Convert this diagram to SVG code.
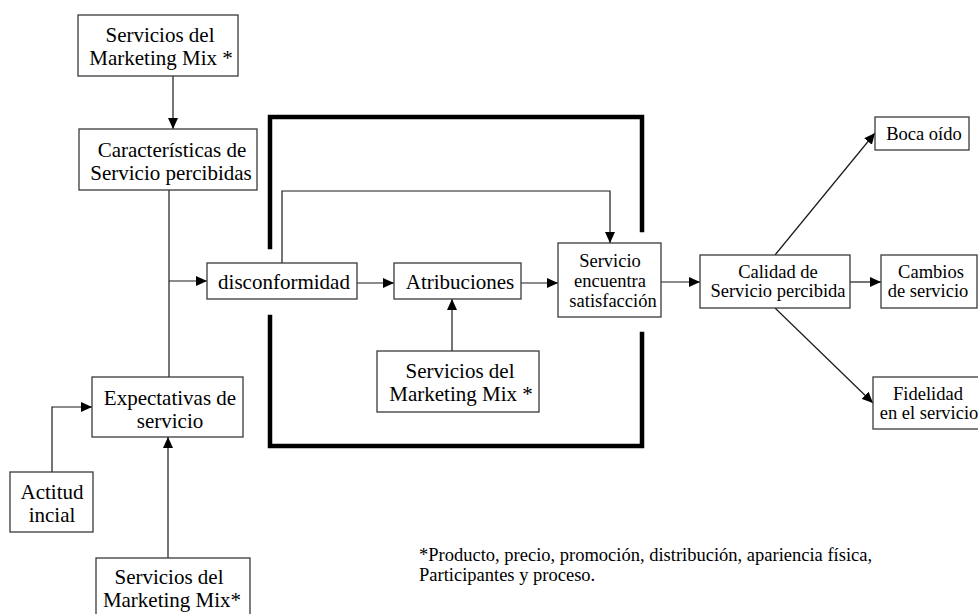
<svg xmlns="http://www.w3.org/2000/svg" width="978" height="614" viewBox="0 0 978 614">
<style>
.box{fill:#fff;stroke:#3a3a3a;stroke-width:1.3}
.t{font-family:"Liberation Serif","Times New Roman",serif;fill:#000;text-anchor:middle}
.t21{font-size:21px}
.t18{font-size:18.5px}
.ln{fill:none;stroke:#1a1a1a;stroke-width:1.2}
.arr{marker-end:url(#ah)}
.frame{fill:none;stroke:#000;stroke-width:4.5;stroke-linecap:square}
</style>
<defs>
<marker id="ah" markerUnits="userSpaceOnUse" markerWidth="12" markerHeight="10" refX="11" refY="5" orient="auto">
<path d="M0,0 L11,5 L0,10 Z" fill="#000"/>
</marker>
</defs>
<rect width="978" height="614" fill="#fff"/>

<g id="frame">
<path class="frame" d="M270,247 V117 H642 V230"/>
<path class="frame" d="M270,317 V446 H642 V334"/>
</g>

<g id="connectors">
<path class="ln arr" d="M173,76 V129"/>
<path class="ln" d="M169,190 V377"/>
<path class="ln arr" d="M169,281 H207"/>
<path class="ln arr" d="M52,472 V407 H92"/>
<path class="ln arr" d="M168,558 V437"/>
<path class="ln arr" d="M357,283 H394"/>
<path class="ln arr" d="M282,263 V191 H610 V243"/>
<path class="ln arr" d="M452,351 V299"/>
<path class="ln arr" d="M521,283 H558"/>
<path class="ln arr" d="M661,282 H700"/>
<path class="ln arr" d="M850,282 H881"/>
<path class="ln arr" d="M775,255 L875,133"/>
<path class="ln arr" d="M775,308 L873,403"/>
</g>

<g id="n-mix-top">
<rect class="box" x="78" y="15" width="160" height="61"/>
<text class="t t21" x="160" y="42">Servicios del</text>
<text class="t t21" x="161" y="65">Marketing Mix *</text>
</g>

<g id="n-caracteristicas">
<rect class="box" x="79" y="129" width="178" height="61"/>
<text class="t t21" x="172" y="157">Características de</text>
<text class="t t21" x="171" y="180">Servicio percibidas</text>
</g>

<g id="n-disconformidad">
<rect class="box" x="207" y="263" width="150" height="36"/>
<text class="t t21" x="284" y="289">disconformidad</text>
</g>

<g id="n-atribuciones">
<rect class="box" x="394" y="263" width="127" height="36"/>
<text class="t t21" x="460" y="289">Atribuciones</text>
</g>

<g id="n-mix-mid">
<rect class="box" x="377" y="351" width="162" height="61"/>
<text class="t t21" x="460" y="378">Servicios del</text>
<text class="t t21" x="461" y="401">Marketing Mix *</text>
</g>

<g id="n-servicio">
<rect class="box" x="558" y="243" width="103" height="74"/>
<text class="t t18" x="610" y="267">Servicio</text>
<text class="t t18" x="610" y="287">encuentra</text>
<text class="t t18" x="613" y="307">satisfacción</text>
</g>

<g id="n-expectativas">
<rect class="box" x="92" y="377" width="151" height="60"/>
<text class="t t21" x="170" y="405">Expectativas de</text>
<text class="t t21" x="170" y="428">servicio</text>
</g>

<g id="n-actitud">
<rect class="box" x="10" y="472" width="83" height="60"/>
<text class="t t21" x="52" y="499">Actitud</text>
<text class="t t21" x="52" y="522">incial</text>
</g>

<g id="n-mix-bottom">
<rect class="box" x="96" y="558" width="154" height="60"/>
<text class="t t21" x="169" y="584">Servicios del</text>
<text class="t t21" x="172" y="607">Marketing Mix*</text>
</g>

<g id="n-calidad">
<rect class="box" x="700" y="255" width="150" height="53"/>
<text class="t t18" x="778" y="278">Calidad de</text>
<text class="t t18" x="778" y="297">Servicio percibida</text>
</g>

<g id="n-boca">
<rect class="box" x="875" y="117" width="94" height="33"/>
<text class="t t18" x="924" y="140">Boca oído</text>
</g>

<g id="n-cambios">
<rect class="box" x="881" y="255" width="96" height="53"/>
<text class="t t18" x="931" y="278">Cambios</text>
<text class="t t18" x="928" y="297">de servicio</text>
</g>

<g id="n-fidelidad">
<rect class="box" x="873" y="377" width="115" height="52"/>
<text class="t t18" x="928" y="400">Fidelidad</text>
<text class="t t18" x="929" y="419">en el servicio</text>
</g>

<g id="footnote">
<text font-family="'Liberation Serif','Times New Roman',serif" font-size="18.5" x="419" y="561">*Producto, precio, promoción, distribución, apariencia física,</text>
<text font-family="'Liberation Serif','Times New Roman',serif" font-size="18.5" x="419" y="581">Participantes y proceso.</text>
</g>
</svg>
